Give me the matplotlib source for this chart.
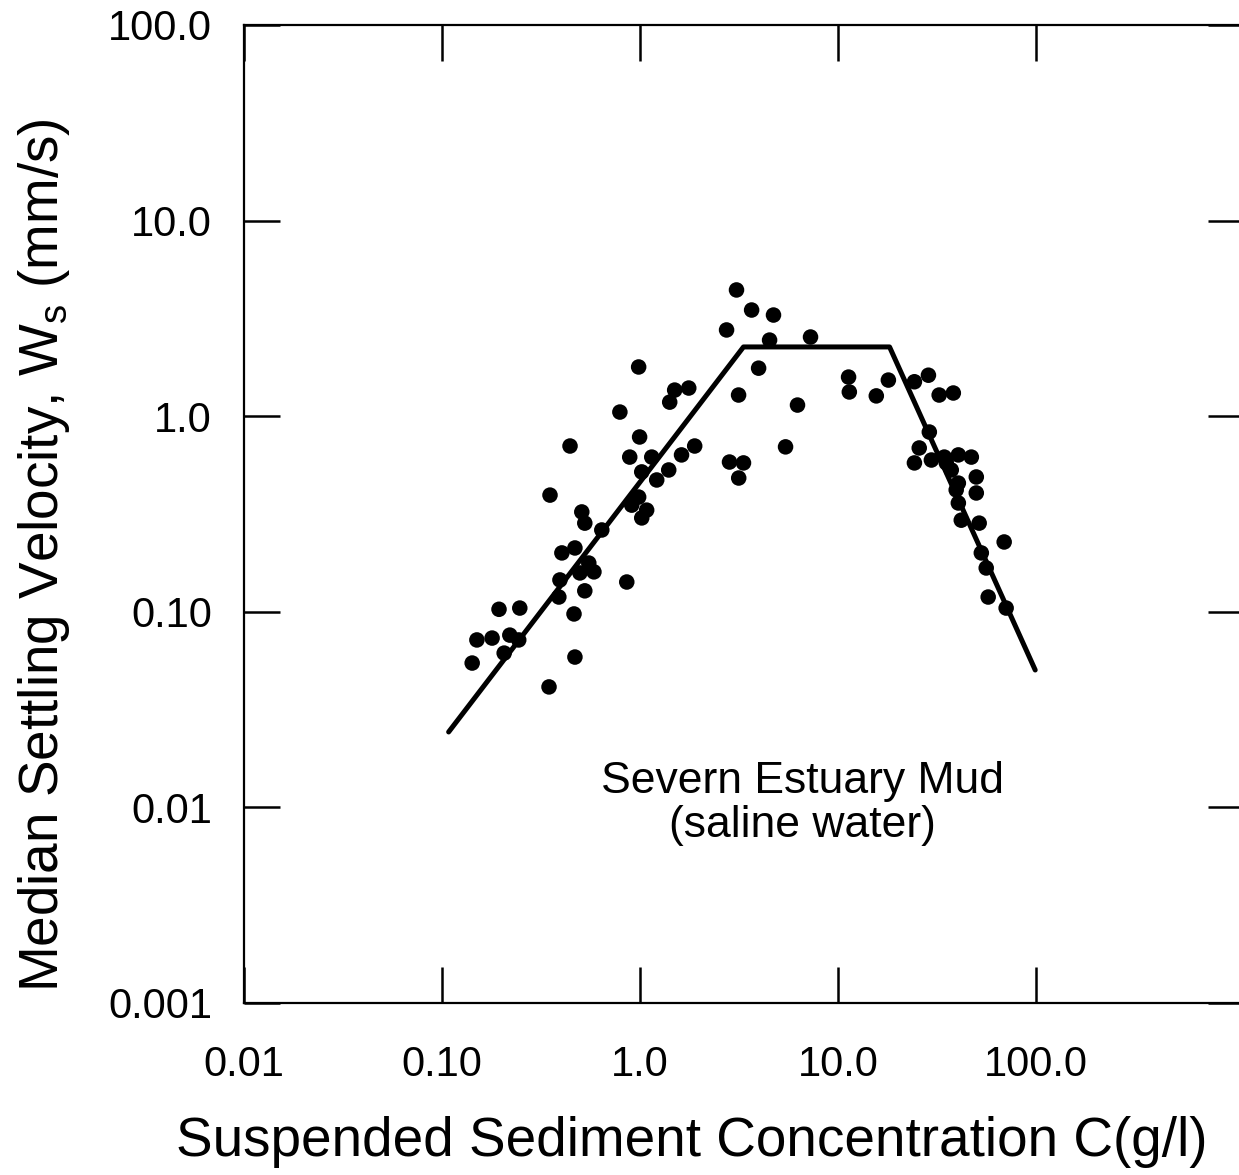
import matplotlib
matplotlib.use('Agg')
import matplotlib.pyplot as plt

matplotlib.rcParams.update({'font.family': 'Liberation Sans',
                            'mathtext.fontset': 'custom',
                            'mathtext.rm': 'Liberation Sans'})

# measured points (concentration g/l, settling velocity mm/s)
conc = [0.142, 0.150, 0.179, 0.194, 0.247, 0.220, 0.244, 0.206, 0.347, 0.469,
        0.464, 0.389, 0.394, 0.526, 0.857, 0.403, 0.469, 0.551, 0.585, 0.497,
        0.351, 0.508, 0.526, 0.641, 0.443, 0.791, 0.984, 0.995, 0.887, 1.146,
        1.02, 1.396, 1.62, 1.888, 0.984, 1.08, 1.02, 0.908, 1.214, 1.496,
        1.762, 1.412, 3.145, 3.07, 3.66, 4.72, 2.735, 4.51, 7.26, 3.97,
        6.24, 5.43, 11.3, 11.4, 15.6, 17.95, 2.83, 3.33, 3.15,
        24.3, 28.6, 32.4, 38.2, 28.9, 25.7, 24.3, 29.6, 34.4, 40.5,
        47.1, 37.3, 49.9, 40.5, 49.9, 40.5, 41.9, 51.6, 69.0, 52.9,
        56.0, 57.3, 70.6, 39.5, 35.2]
vel = [0.0547, 0.0718, 0.0734, 0.103, 0.1045, 0.076, 0.0718, 0.0615, 0.0413, 0.0587,
       0.0975, 0.119, 0.1455, 0.128, 0.142, 0.200, 0.212, 0.1775, 0.160, 0.158,
       0.395, 0.324, 0.284, 0.262, 0.704, 1.05, 1.785, 0.783, 0.618, 0.618,
       0.519, 0.531, 0.634, 0.704, 0.386, 0.331, 0.302, 0.351, 0.472, 1.36,
       1.393, 1.18, 1.283, 4.42, 3.49, 3.29, 2.76, 2.45, 2.54, 1.76,
       1.14, 0.697, 1.585, 1.33, 1.27, 1.53, 0.583, 0.577, 0.483,
       1.50, 1.62, 1.283, 1.314, 0.83, 0.688, 0.577, 0.597, 0.618, 0.634,
       0.618, 0.531, 0.489, 0.455, 0.405, 0.36, 0.294, 0.284, 0.2275, 0.2,
       0.1675, 0.119, 0.1045, 0.42, 0.577]

# fitted trend
fit_c = [0.108, 3.33, 18.2, 99.0]
fit_w = [0.0243, 2.26, 2.26, 0.0504]

xticks = [0.01, 0.1, 1, 10, 100]
xlabels = ['0.01', '0.10', '1.0', '10.0', '100.0']
yticks = [0.001, 0.01, 0.1, 1, 10, 100]
ylabels = ['0.001', '0.01', '0.10', '1.0', '10.0', '100.0']

fig = plt.figure(figsize=(12.39, 11.75), dpi=100)
ax = fig.add_axes([244/1239, 172/1175, 1000/1239, 978/1175])

ax.plot(fit_c, fit_w, color='black', linewidth=3.6, solid_capstyle='round')
ax.scatter(conc, vel, s=125, color='black', edgecolors='none', zorder=3)

ax.set_xscale('log')
ax.set_yscale('log')
ax.set_xlim(0.01, 10**3.05)
ax.set_ylim(0.001, 100)
ax.set_xticks(xticks)
ax.set_xticklabels(xlabels)
ax.set_yticks(yticks)
ax.set_yticklabels(ylabels)
ax.minorticks_off()
ax.tick_params(direction='in', length=26, width=1.8, top=True, right=True,
               labelsize=30, colors='black')
ax.tick_params(axis='x', pad=30)
ax.tick_params(axis='y', pad=23)
for s in ax.spines.values():
    s.set_linewidth(1.6)

ax.set_xlabel('Suspended Sediment Concentration C(g/l)', fontsize=39.5)
ax.xaxis.set_label_coords(0.448, -0.116)
ax.set_ylabel(r'Median Settling Velocity, W$_{\rm s}$ (mm/s)', fontsize=39.5)
ax.yaxis.set_label_coords(-0.172, 0.458)

ax.text(6.6, 0.0105, 'Severn Estuary Mud\n(saline water)', fontsize=32,
        ha='center', va='center', multialignment='center', linespacing=1.1)

plt.savefig('out.png', dpi=100)
